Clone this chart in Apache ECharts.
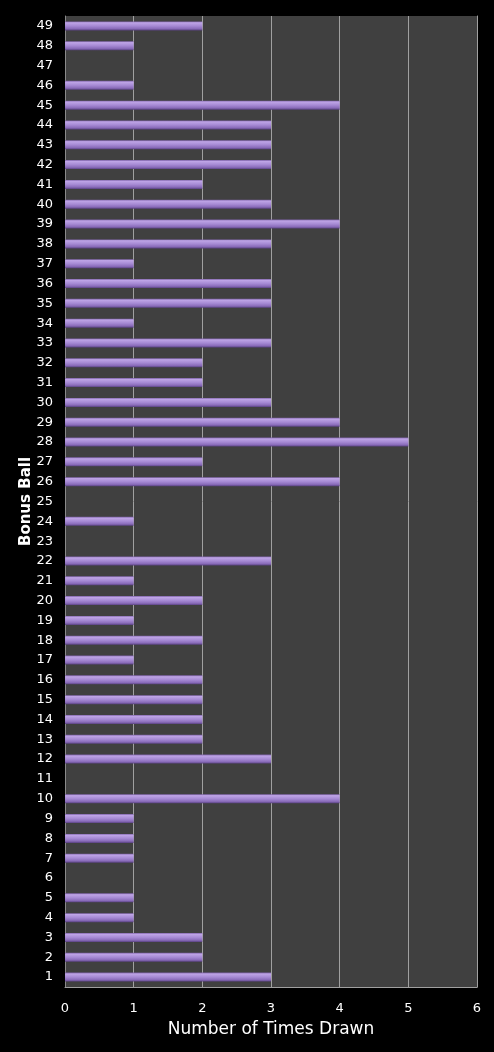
<!DOCTYPE html>
<html><head><meta charset="utf-8">
<script src="https://cdn.jsdelivr.net/npm/echarts@6/dist/echarts.min.js"></script>
<style>html,body{margin:0;padding:0;background:#000;}#c{width:494px;height:1052px;}</style>
</head><body><div id="c"></div>
<script>
const balls = [];
for (let i = 1; i <= 49; i++) balls.push(String(i));
// times drawn for bonus ball 1..49
const timesDrawn = [3,2,2,1,1,0,1,1,1,4,0,3,2,2,2,2,1,2,1,2,1,3,0,1,0,4,2,5,4,3,2,2,3,1,3,3,1,3,4,3,2,3,3,3,4,1,0,1,2];
const xTicks = [0,1,2,3,4,5,6];

const chart = echarts.init(document.getElementById('c'));
const font = 'DejaVu Sans';
chart.setOption({
  backgroundColor: '#000',
  animation: false,
  grid: {left: 65, right: 17, top: 16, bottom: 65, show: true, backgroundColor: '#404040', borderWidth: 0},
  xAxis: {
    type: 'value', min: xTicks[0], max: xTicks[xTicks.length-1], interval: 1,
    name: 'Number of Times Drawn', nameLocation: 'middle', nameGap: 34, nameMoveOverlap: false,
    nameTextStyle: {color: '#fff', fontSize: 17, fontFamily: font},
    axisLine: {show: true, lineStyle: {color: '#a0a0a0'}},
    axisTick: {show: false},
    axisLabel: {color: '#fff', fontSize: 13, fontFamily: font, margin: 15},
    splitLine: {show: true, lineStyle: {color: '#a0a0a0', width: 1}}
  },
  yAxis: [{
    type: 'category', data: balls,
    name: 'Bonus Ball', nameLocation: 'middle', nameGap: 31, nameMoveOverlap: false,
    nameTextStyle: {color: '#fff', fontSize: 15, fontWeight: 'bold', fontFamily: font},
    axisLine: {show: true, lineStyle: {color: '#8a8a8a'}},
    axisTick: {show: false},
    axisLabel: {color: '#fff', fontSize: 13, fontFamily: font, margin: 12, interval: 0},
    splitLine: {show: false}
  }, {
    type: 'category', data: balls, position: 'right',
    axisLine: {show: true, lineStyle: {color: '#a0a0a0'}},
    axisTick: {show: false}, axisLabel: {show: false}, splitLine: {show: false}
  }],
  series: [{
    type: 'bar', data: timesDrawn, barWidth: 9,
    itemStyle: {
      color: new echarts.graphic.LinearGradient(0, 0, 0, 1, [
        {offset: 0, color: '#7e62a8'},
        {offset: 0.15, color: '#bea4e6'},
        {offset: 0.5, color: '#a68ad4'},
        {offset: 0.8, color: '#8a6cba'},
        {offset: 1, color: '#5a4282'}
      ])
    }
  }]
});
</script></body></html>
